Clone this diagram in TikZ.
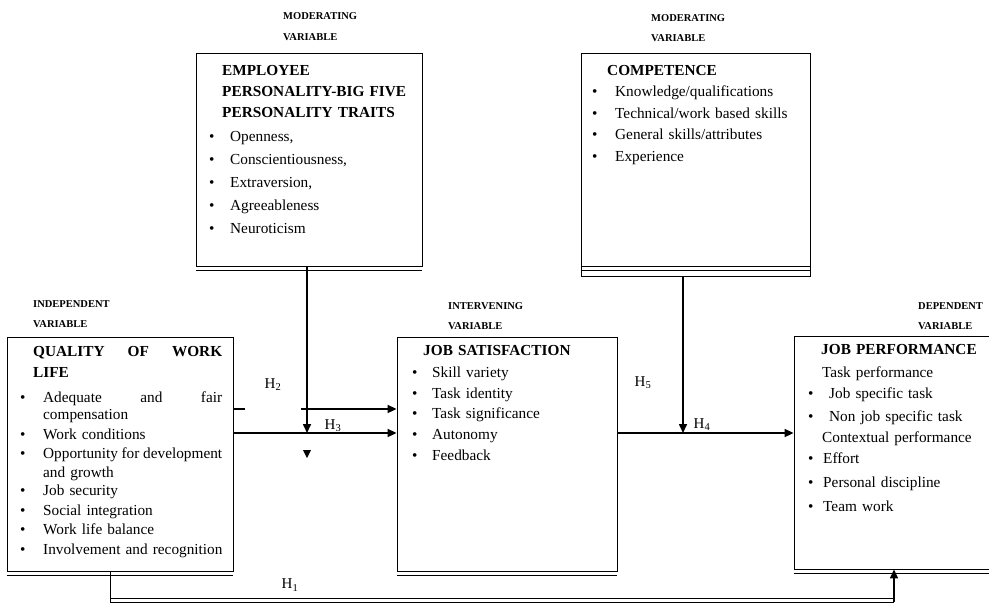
\documentclass[tikz,border=0pt]{standalone}
\usepackage{fontspec}
\setmainfont{Liberation Serif}
\usetikzlibrary{arrows.meta}
\newcommand{\bitem}[2][21pt]{\makebox[#1][l]{\textbullet}#2}

\begin{document}
\begin{tikzpicture}[
    x=1pt, y=-1pt,
    varbox/.style={draw, line width=0.8pt, inner sep=0pt},
    boxtext/.style={anchor=base west, inner sep=0pt, align=left},
    varlabel/.style={anchor=base west, inner sep=0pt, align=left, text width=90pt, font=\fontsize{10.5}{20.5}\selectfont\bfseries},
    hlabel/.style={inner sep=0pt, font=\fontsize{15}{18}\selectfont},
    link/.style={line width=1.6pt},
    arrow/.style={-{Triangle[length=9pt,width=8pt]}, line width=1.6pt}
]
    \useasboundingbox[fill=white] (0,0) rectangle (989,606);

    % Variable boxes
    \node[varbox, minimum width=226pt, minimum height=213pt] (employee) at (309,159.5) {};
    \node[varbox, minimum width=229pt, minimum height=223pt] (competence) at (695.5,164.5) {};
    \node[varbox, minimum width=226pt, minimum height=234pt] (qwl) at (120,454) {};
    \node[varbox, minimum width=220pt, minimum height=234pt] (jobsat) at (507,454) {};
    \node[varbox, minimum width=206pt, minimum height=233pt] (jobperf) at (897,452.5) {};

    % Box edges
    \draw[line width=1.6pt] (employee.north east) -- (employee.south east);
    \draw[line width=1.6pt] (competence.north east) -- (competence.south east);
    \draw[line width=1.6pt] (qwl.north east) -- (qwl.south east);
    \draw[line width=1.6pt] (jobsat.north east) -- (jobsat.south east);
    \draw[line width=0.6pt] ([yshift=-3.5pt]employee.south west) -- ([yshift=-3.5pt]employee.south east);
    \draw[line width=1pt] ([yshift=10pt]competence.south west) -- ([yshift=10pt]competence.south east);
    \draw[line width=0.6pt] ([yshift=6.5pt]competence.south west) -- ([yshift=6.5pt]competence.south east);
    \draw[line width=0.6pt] ([yshift=-3.5pt]qwl.south west) -- ([yshift=-3.5pt]qwl.south east);
    \draw[line width=0.6pt] ([yshift=-3.5pt]jobsat.south west) -- ([yshift=-3.5pt]jobsat.south east);
    \draw[line width=0.6pt] ([yshift=-3.5pt]jobperf.south west) -- ([yshift=-3.5pt]jobperf.south east);

    % Variable labels
    \node[varlabel] (employee-lbl) at (283,19.5) {MODERATING\\VARIABLE};
    \node[varlabel] (competence-lbl) at (651,21) {MODERATING\\VARIABLE};
    \node[varlabel] (qwl-lbl) at (33,307) {INDEPENDENT\\VARIABLE};
    \node[varlabel] (jobsat-lbl) at (448,309) {INTERVENING\\VARIABLE};
    \node[varlabel] (jobperf-lbl) at (918,309) {DEPENDENT\\VARIABLE};

    % Box contents
    \node[boxtext, text width=205pt, font=\fontsize{15.3}{21}\selectfont] (employee-text) at (209,75)
        {\hspace*{13pt}\textbf{EMPLOYEE}\\
         \hspace*{13pt}\textbf{PERSONALITY-BIG FIVE}\\
         \hspace*{13pt}\textbf{PERSONALITY TRAITS}\\[3.5pt]
         \bitem{Openness,}\\[2pt]
         \bitem{Conscientiousness,}\\[2pt]
         \bitem{Extraversion,}\\[2pt]
         \bitem{Agreeableness}\\[2pt]
         \bitem{Neuroticism}};
    \node[boxtext, text width=215pt, font=\fontsize{15.3}{21.5}\selectfont] (competence-text) at (592,75)
        {\hspace*{15pt}\textbf{COMPETENCE}\\
         \bitem[23pt]{Knowledge/qualifications}\\
         \bitem[23pt]{Technical/work based skills}\\
         \bitem[23pt]{General skills/attributes}\\
         \bitem[23pt]{Experience}};
    \node[boxtext, text width=205pt, font=\fontsize{15.3}{19}\selectfont] (qwl-text) at (20,356)
        {\hspace*{13pt}\textbf{\makebox[189pt][l]{QUALITY\hfill OF\hfill WORK}}\\[2pt]
         \hspace*{13pt}\textbf{LIFE}\\[6.5pt]
         \bitem[23pt]{\makebox[179pt][l]{Adequate\hfill and\hfill fair}}\\[-2pt]
         \hspace*{23pt}compensation\\[1pt]
         \bitem[23pt]{Work conditions}\\
         \bitem[23pt]{\makebox[179pt][l]{Opportunity\hfill for\hfill development}}\\
         \hspace*{23pt}and growth\\[-1pt]
         \bitem[23pt]{Job security}\\[1pt]
         \bitem[23pt]{Social integration}\\
         \bitem[23pt]{Work life balance}\\[1pt]
         \bitem[23pt]{Involvement and recognition}};
    \node[boxtext, text width=200pt, font=\fontsize{15.3}{20.7}\selectfont] (jobsat-text) at (412,355)
        {\hspace*{11pt}\textbf{JOB SATISFACTION}\\[1.8pt]
         \bitem[20pt]{Skill variety}\\
         \bitem[20pt]{Task identity}\\
         \bitem[20pt]{Task significance}\\
         \bitem[20pt]{Autonomy}\\
         \bitem[20pt]{Feedback}};
    \node[boxtext, text width=200pt, font=\fontsize{15.3}{22}\selectfont] (jobperf-text) at (808,354)
        {\hspace*{13pt}\textbf{JOB PERFORMANCE}\\[1.5pt]
         \hspace*{14pt}Task performance\\[-1pt]
         \bitem{Job specific task}\\[1pt]
         \bitem{Non job specific task}\\[-1pt]
         \hspace*{14pt}Contextual performance\\[-1pt]
         \bitem[15pt]{Effort}\\[2pt]
         \bitem[15pt]{Personal discipline}\\[2pt]
         \bitem[15pt]{Team work}};

    % Hypothesis labels
    \node[hlabel] (h1) at (290,585) {H\textsubscript{1}};
    \node[hlabel] (h2) at (273,385) {H\textsubscript{2}};
    \node[hlabel] (h3) at (333,426) {H\textsubscript{3}};
    \node[hlabel] (h4) at (702,425) {H\textsubscript{4}};
    \node[hlabel] (h5) at (643,383) {H\textsubscript{5}};

    % Junction points
    \coordinate (j2) at (301,409);
    \coordinate (j3) at (307,433);
    \coordinate (j4) at (683,433);
    \coordinate (b1) at (110,602);
    \coordinate (b2) at (894,602);

    % Connections
    \draw[arrow] (employee.south -| j3) -- (j3);
    \draw[arrow] (competence.south -| j4) -- (j4);
    \draw[link] (qwl.east |- j2) -- ++(12,0);
    \draw[arrow] (j2) -- (jobsat.west |- j2);
    \draw[arrow] (qwl.east |- j3) -- (jobsat.west |- j3);
    \draw[arrow] (jobsat.east |- j4) -- (jobperf.west |- j4);
    \draw[line width=0.8pt] (qwl.south -| b1) -- (b1) -- (b2);
    \draw[line width=0.6pt] ([yshift=3.5pt]b1) -- ([yshift=3.5pt]b2);
    \draw[arrow] (b2) -- (jobperf.south -| b2);
    \fill (303,450) -- (311,450) -- (307,458) -- cycle;
\end{tikzpicture}
\end{document}
